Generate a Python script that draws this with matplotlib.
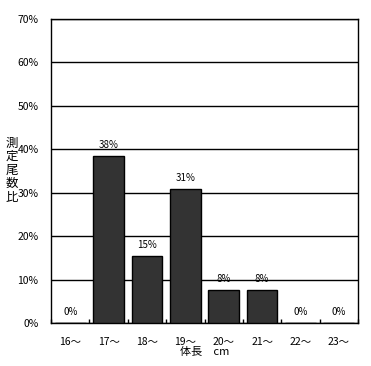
import matplotlib.pyplot as plt
import numpy as np

plt.rcParams['font.family'] = ['Noto Sans CJK JP', 'DejaVu Sans']

categories = ['16～', '17～', '18～', '19～', '20～', '21～', '22～', '23～']
ratios = [0.0, 38.46, 15.38, 30.77, 7.69, 7.69, 0.0, 0.0]
bar_labels = ['0%', '38%', '15%', '31%', '8%', '8%', '0%', '0%']
y_ticks = [0, 10, 20, 30, 40, 50, 60, 70]

fig = plt.figure(figsize=(3.71, 3.66), dpi=100)
ax = fig.add_axes([51 / 371, 1 - 323 / 366, 307 / 371, 304 / 366])

x = np.arange(len(categories))
ax.bar(x, ratios, width=0.8, color='#333333', edgecolor='black', linewidth=1, zorder=3)

for xi, v, lab in zip(x, ratios, bar_labels):
    ax.text(xi, v + 1.4, lab, ha='center', va='bottom', fontsize=7, zorder=4)

ax.set_xlim(-0.5, len(categories) - 0.5)
ax.set_ylim(0, 70)
ax.set_yticks(y_ticks)
ax.set_yticklabels([f'{t}%' for t in y_ticks], fontsize=7.5)
ax.yaxis.grid(True, color='black', linewidth=1, zorder=0)
ax.tick_params(axis='y', length=0, pad=9)

ax.set_xticks(x)
ax.set_xticklabels(categories, fontsize=7.5)
ax.tick_params(axis='x', length=0, pad=10)
ax.set_xticks(np.arange(len(categories) + 1) - 0.5, minor=True)
ax.tick_params(axis='x', which='minor', direction='in', length=3, width=1)

for s in ax.spines.values():
    s.set_linewidth(1)
    s.set_color('black')

ax.set_xlabel('体長　cm', fontsize=8, labelpad=0)
fig.text(12 / 371, 1 - 170 / 366, '\n'.join('測定尾数比'), fontsize=9,
         ha='center', va='center', linespacing=1.05)

fig.savefig('out.png', dpi=100)
